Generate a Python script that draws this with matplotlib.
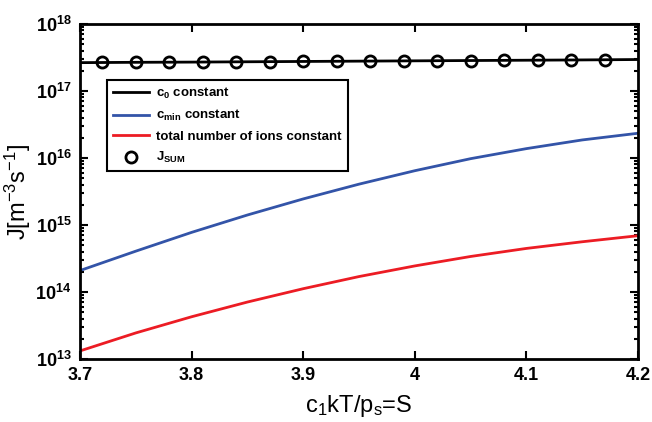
import matplotlib
matplotlib.use("Agg")
import matplotlib.pyplot as plt
from matplotlib.ticker import FixedLocator, LogLocator, NullFormatter

plt.rcParams['font.family'] = ['Liberation Sans', 'DejaVu Sans']
plt.rcParams['mathtext.fontset'] = 'custom'
plt.rcParams['mathtext.rm'] = 'Liberation Sans'
plt.rcParams['mathtext.it'] = 'Liberation Sans'
plt.rcParams['mathtext.bf'] = 'Liberation Sans:bold'

# supersaturation S
s_line = [3.70, 3.75, 3.80, 3.85, 3.90, 3.95, 4.00, 4.05, 4.10, 4.15, 4.20]
# c0 constant
j_c0 = [2.65e17, 2.68e17, 2.70e17, 2.73e17, 2.76e17, 2.79e17,
        2.82e17, 2.85e17, 2.88e17, 2.91e17, 2.95e17]
# cmin constant
j_cmin = [2.09e14, 4.07e14, 7.76e14, 1.41e15, 2.45e15, 4.07e15,
          6.46e15, 9.77e15, 1.38e16, 1.86e16, 2.34e16]
# total number of ions constant
j_tot = [1.32e13, 2.45e13, 4.27e13, 7.08e13, 1.12e14, 1.70e14,
         2.45e14, 3.39e14, 4.47e14, 5.62e14, 6.92e14]

# J_SUM markers
s_sum = [3.72, 3.75, 3.78, 3.81, 3.84, 3.87, 3.90, 3.93,
         3.96, 3.99, 4.02, 4.05, 4.08, 4.11, 4.14, 4.17]
j_sum = [2.67e17, 2.68e17, 2.70e17, 2.71e17, 2.73e17, 2.75e17, 2.76e17, 2.78e17,
         2.80e17, 2.81e17, 2.83e17, 2.85e17, 2.87e17, 2.89e17, 2.91e17, 2.92e17]

fig = plt.figure(figsize=(6.52, 4.22), dpi=100)
ax = fig.add_axes([80/652, 1-359/422, 558/652, 335/422])

ax.plot(s_line, j_c0, color='black', lw=2, label=r'c$_\mathbf{0}$ constant')
ax.plot(s_line, j_cmin, color='#3354a8', lw=2, label=r'c$_\mathbf{min}$ constant')
ax.plot(s_line, j_tot, color='#ec1c24', lw=2, label='total number of ions constant')
ax.plot(s_sum, j_sum, 'o', mfc='none', mec='black', mew=2, ms=8,
        label=r'J$_\mathbf{SUM}$')

ax.set_yscale('log')
ax.set_xlim(3.7, 4.2)
ax.set_ylim(1e13, 1e18)
ax.xaxis.set_major_locator(FixedLocator([3.7, 3.8, 3.9, 4.0, 4.1, 4.2]))
ax.set_xticklabels(['3.7', '3.8', '3.9', '4', '4.1', '4.2'])
ax.yaxis.set_major_locator(LogLocator(base=10, numticks=10))
ax.yaxis.set_minor_locator(LogLocator(base=10, subs=range(2, 10), numticks=10))
ax.yaxis.set_minor_formatter(NullFormatter())

ax.tick_params(which='both', direction='in', top=True, right=True,
               labelsize=13, width=1.5)
ax.tick_params(which='major', length=6, pad=6)
ax.tick_params(which='minor', length=3)
for lab in ax.get_xticklabels() + ax.get_yticklabels():
    lab.set_fontweight('bold')
for sp in ax.spines.values():
    sp.set_linewidth(2)

ax.set_xlabel(r'c$_1$kT/p$_s$=S', fontsize=17, labelpad=6)
ax.set_ylabel(r'J[m$^{-3}$s$^{-1}$]', fontsize=17)
ax.yaxis.set_label_coords(-0.084, 0.5)

leg = ax.legend(loc='upper left', bbox_to_anchor=(27/558, 279/335),
                fancybox=False, framealpha=1, edgecolor='black',
                prop={'weight': 'bold', 'size': 9.5}, handlelength=2.7,
                borderpad=0.45, labelspacing=0.55, handletextpad=0.6,
                borderaxespad=0)
leg.get_frame().set_linewidth(1.5)

fig.savefig('out.png', dpi=100)
